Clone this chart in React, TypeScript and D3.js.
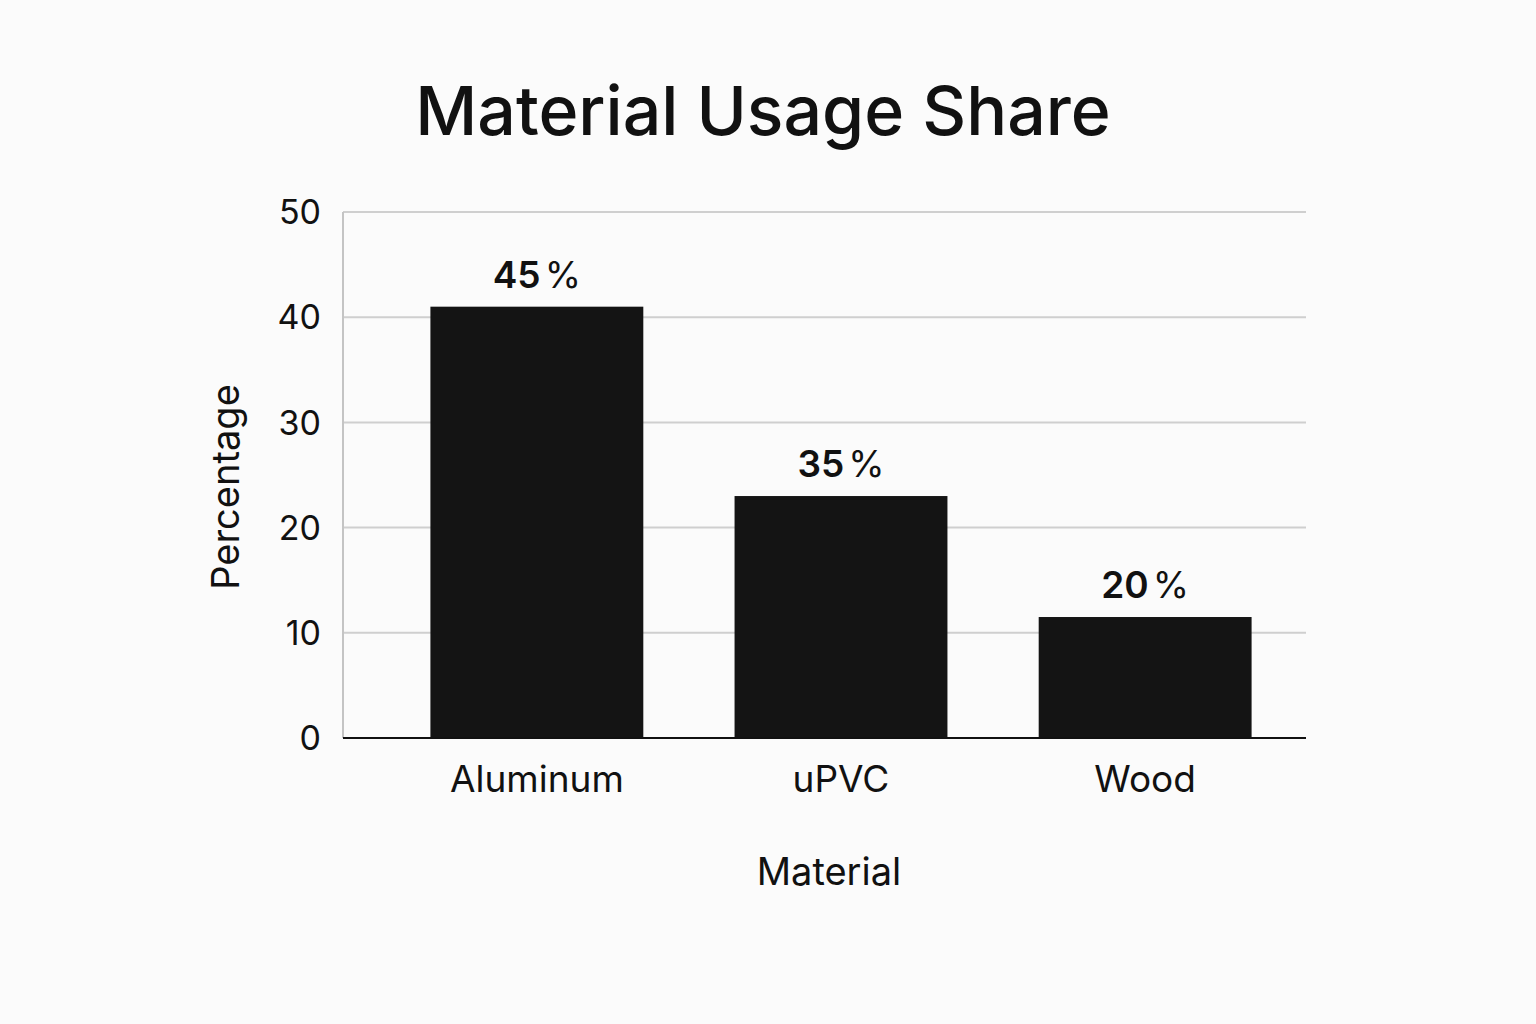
import { useEffect, useRef } from 'react';
import * as d3 from 'd3';

const categories = ['Aluminum', 'uPVC', 'Wood'];
const barValues = [41, 23, 11.5];
const valueLabels = ['45', '35', '20'];
const yTicks = [0, 10, 20, 30, 40, 50];

const W = 1536;
const H = 1024;

export default function App() {
  const svgRef = useRef<SVGSVGElement>(null);

  useEffect(() => {
    if (!svgRef.current) return;
    const svg = d3.select(svgRef.current);
    svg.selectAll('*').remove();
    svg.style('font-family', 'Inter, "Noto Sans", sans-serif');

    svg.append('rect').attr('width', W).attr('height', H).attr('fill', '#fbfbfb');

    const left = 343;
    const right = 1306;
    const top = 212;
    const bottom = 738;

    const x = d3.scaleBand<string>().domain(categories).range([400, 1282]).paddingInner(0.3).paddingOuter(0.1);
    const y = d3.scaleLinear().domain([0, 50]).range([bottom, top]);

    // gridlines
    svg
      .append('g')
      .selectAll('line')
      .data(yTicks.filter((t) => t > 0))
      .enter()
      .append('line')
      .attr('x1', left)
      .attr('x2', right)
      .attr('y1', (d) => y(d))
      .attr('y2', (d) => y(d))
      .attr('stroke', '#cfcfcf')
      .attr('stroke-width', 2);

    // y axis line
    svg
      .append('line')
      .attr('x1', left)
      .attr('x2', left)
      .attr('y1', top)
      .attr('y2', bottom)
      .attr('stroke', '#c4c4c4')
      .attr('stroke-width', 2);

    // tick labels
    svg
      .append('g')
      .selectAll('text')
      .data(yTicks)
      .enter()
      .append('text')
      .attr('x', 321)
      .attr('y', (d) => y(d))
      .attr('dy', '0.36em')
      .attr('text-anchor', 'end')
      .attr('font-size', 34)
      .attr('fill', '#111')
      .text((d) => d);

    // bars
    svg
      .append('g')
      .selectAll('rect')
      .data(categories)
      .enter()
      .append('rect')
      .attr('x', (d) => x(d)!)
      .attr('width', x.bandwidth())
      .attr('y', (_, i) => y(barValues[i]))
      .attr('height', (_, i) => bottom - y(barValues[i]))
      .attr('fill', '#141414');

    // value labels
    const lbl = svg
      .append('g')
      .selectAll('text')
      .data(categories)
      .enter()
      .append('text')
      .attr('x', (d) => x(d)! + x.bandwidth() / 2)
      .attr('y', (_, i) => y(barValues[i]) - 19)
      .attr('text-anchor', 'middle')
      .attr('font-size', 37)
      .attr('fill', '#111');
    lbl.append('tspan').attr('font-weight', 600).text((_, i) => valueLabels[i]);
    lbl.append('tspan').attr('font-weight', 400).attr('dx', 4).text('%');

    // baseline
    svg
      .append('line')
      .attr('x1', left)
      .attr('x2', right)
      .attr('y1', bottom)
      .attr('y2', bottom)
      .attr('stroke', '#111')
      .attr('stroke-width', 2);

    // category labels
    svg
      .append('g')
      .selectAll('text')
      .data(categories)
      .enter()
      .append('text')
      .attr('x', (d) => x(d)! + x.bandwidth() / 2)
      .attr('y', 792)
      .attr('text-anchor', 'middle')
      .attr('font-size', 37)
      .attr('fill', '#111')
      .text((d) => d);

    // axis titles
    svg
      .append('text')
      .attr('x', 829)
      .attr('y', 885)
      .attr('text-anchor', 'middle')
      .attr('font-size', 38)
      .attr('fill', '#111')
      .text('Material');

    svg
      .append('text')
      .attr('transform', `translate(239,487) rotate(-90)`)
      .attr('text-anchor', 'middle')
      .attr('font-size', 38)
      .attr('fill', '#111')
      .text('Percentage');

    // title
    svg
      .append('text')
      .attr('x', 763)
      .attr('y', 135)
      .attr('text-anchor', 'middle')
      .attr('font-size', 68)
      .attr('font-weight', 500)
      .attr('fill', '#111')
      .text('Material Usage Share');
  }, []);

  return (
    <div style={{ position: 'fixed', left: 0, top: 0 }}>
      <svg ref={svgRef} width={W} height={H} viewBox={`0 0 ${W} ${H}`} style={{ display: 'block' }} />
    </div>
  );
}
